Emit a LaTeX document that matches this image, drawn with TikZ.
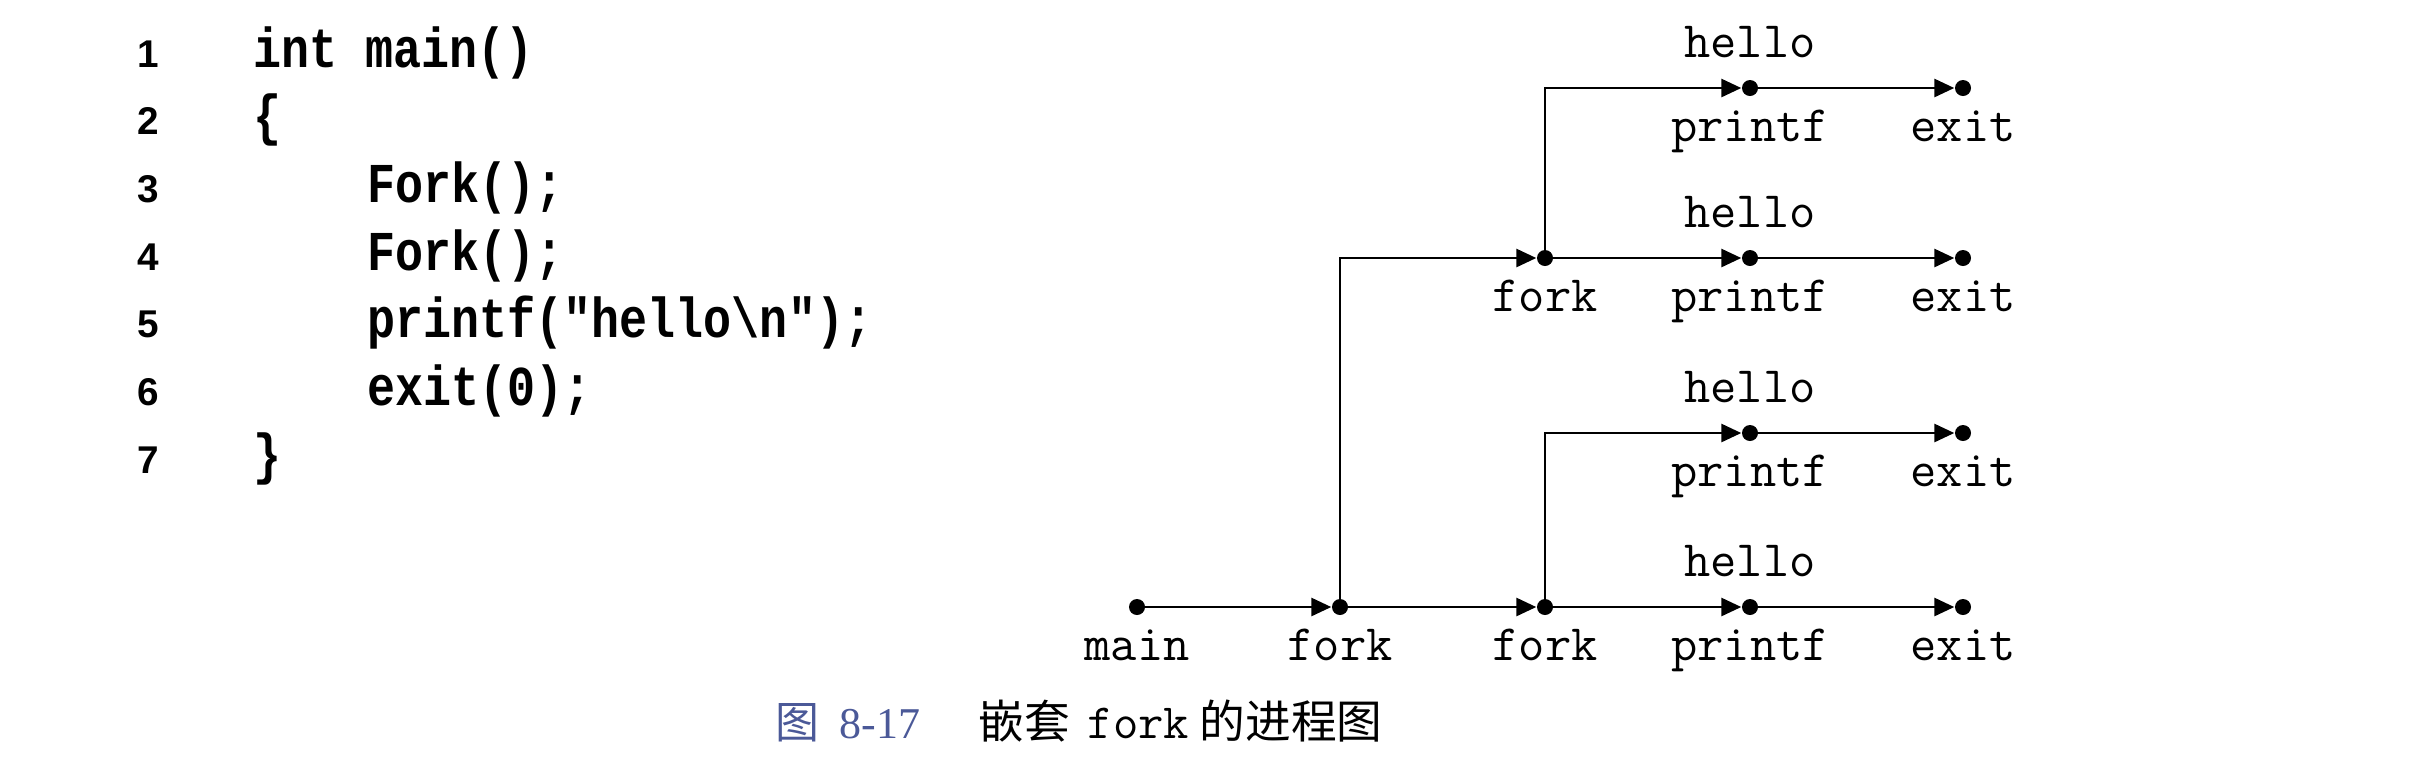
\documentclass[tikz,border=0pt]{standalone}
\usepackage{fontspec}
\usepackage{xcolor}
\setmainfont{Liberation Serif}
\newfontfamily\codefont[FakeStretch=0.83]{Liberation Mono}
\newfontfamily\numfont{Liberation Sans}
\newfontfamily\cjkfont{Noto Sans CJK SC}
\newcommand\lblfont{\ttfamily}
\usetikzlibrary{arrows.meta, positioning}
\definecolor{capblue}{HTML}{4B5998}

\tikzset{
  dot/.style={circle, fill=black, inner sep=0pt, minimum size=0.16cm},
  flow/.style={line width=0.8pt, line cap=rect, -{Triangle[length=0.2cm, width=0.18cm]}},
  stem/.style={line width=0.55pt},
  lbl/.style={font=\lblfont\fontsize{14.5}{16}\selectfont, inner sep=0pt, text height=8pt, text depth=3pt},
  lbelow/.style={label={[lbl, label distance=0.16cm]below:#1}},
  lhello/.style={label={[lbl, label distance=0.105cm]above:hello}},
  codeline/.style={font=\codefont\bfseries\fontsize{16}{18}\selectfont, inner sep=0pt, anchor=base west},
  lineno/.style={font=\numfont\bfseries\fontsize{11}{13}\selectfont, inner sep=0pt, anchor=base}
}

\begin{document}
\begin{tikzpicture}[x=0.01cm, y=-0.01cm]
\useasboundingbox (0,0) rectangle (2418,775);

% Source listing
\foreach \n/\x/\code [count=\i from 0] in {1/253/{int main()}, 2/253/{\{}, 3/367/{Fork();}, 4/367/{Fork();},
    5/367/{printf("hello\textbackslash n");}, 6/367/{exit(0);}, 7/253/{\}}} {
  \node[lineno] (ln\n) at (148, 67+67.7*\i) {\n};
  \node[codeline] (code\n) at (\x, 67+67.7*\i) {\code};
}

% Parent process (bottom row)
\node[dot, lbelow=main] (m) at (1137,607) {};
\node[dot, lbelow=fork] (f1) at (1340,607) {};
\node[dot, lbelow=fork] (f2) at (1545,607) {};
\node[dot, lbelow=printf, lhello] (p1) at (1750,607) {};
\node[dot, lbelow=exit] (e1) at (1963,607) {};

% Child of second fork
\node[dot, lbelow=printf, lhello] (p2) at (1750,433) {};
\node[dot, lbelow=exit] (e2) at (1963,433) {};

% Child of first fork
\node[dot, lbelow=fork] (f3) at (1545,258) {};
\node[dot, lbelow=printf, lhello] (p3) at (1750,258) {};
\node[dot, lbelow=exit] (e3) at (1963,258) {};

% Grandchild
\node[dot, lbelow=printf, lhello] (p4) at (1750,88) {};
\node[dot, lbelow=exit] (e4) at (1963,88) {};

% Corners where a child leaves its fork
\coordinate (c2) at (f2 |- p2);
\coordinate (c3) at (f1 |- f3);
\coordinate (c4) at (f3 |- p4);

% Edges
\draw[flow] (m) -- (f1);
\draw[flow] (f1) -- (f2);
\draw[flow] (f2) -- (p1);
\draw[flow] (p1) -- (e1);
\draw[stem] (f2.center) -- (c2);
\draw[flow] (c2) -- (p2);
\draw[flow] (p2) -- (e2);
\draw[stem] (f1.center) -- (c3);
\draw[flow] (c3) -- (f3);
\draw[flow] (f3) -- (p3);
\draw[flow] (p3) -- (e3);
\draw[stem] (f3.center) -- (c4);
\draw[flow] (c4) -- (p4);
\draw[flow] (p4) -- (e4);

% Caption
\node[inner sep=0pt, anchor=base west, text=capblue, font=\fontsize{12.5}{14}\selectfont] (fignum) at (775,738) {{\cjkfont 图}\hspace{0.45em}8-17};
\node[inner sep=0pt, anchor=base west, font=\cjkfont\fontsize{13}{15}\selectfont] (figcap) at (978,738)
  {嵌套\hspace{5pt}{\lblfont\fontsize{14}{15}\selectfont fork}\hspace{3pt}的进程图};

\end{tikzpicture}
\end{document}
